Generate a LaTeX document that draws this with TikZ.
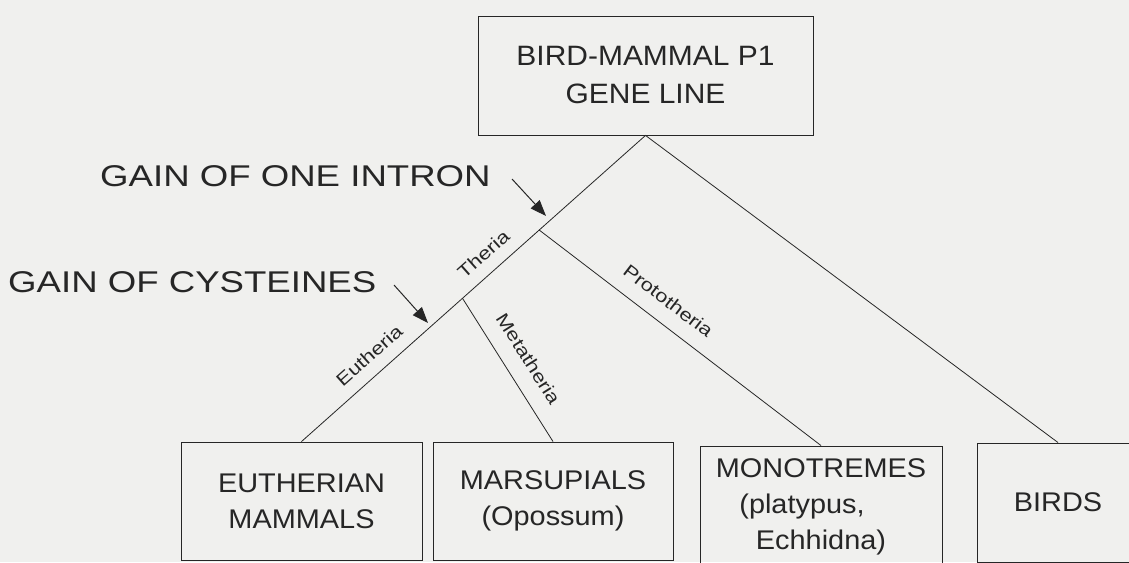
\documentclass[tikz,border=0pt]{standalone}
\usepackage{fontspec}
\setmainfont{Liberation Sans}[FakeStretch=1.07]
\newfontfamily\widefont{Liberation Sans}[FakeStretch=1.22]
\usetikzlibrary{arrows.meta,calc}
\definecolor{paper}{RGB}{240,240,238}
\definecolor{ink}{RGB}{38,38,38}
\begin{document}
\begin{tikzpicture}[x=1pt,y=1pt,
  taxon/.style={draw=ink, line width=0.9pt, text=ink, align=center, inner sep=0pt, minimum height=118pt, font=\fontsize{27}{36}\selectfont},
  clade/.style={text=ink, font=\widefont\fontsize{18}{20}\selectfont, sloped},
  event/.style={text=ink, font=\widefont\fontsize{30}{34}\selectfont, anchor=base west, inner sep=0pt},
  branch/.style={draw=ink, line width=0.8pt},
  marker/.style={draw=ink, line width=1pt, -{Triangle[length=16pt,width=12pt]}}]
\useasboundingbox[fill=paper] (0,0) rectangle (1129,562);
\node[taxon, minimum width=335pt, minimum height=119pt, font=\fontsize{28}{38}\selectfont] (gene) at (645.5,486.5) {BIRD-MAMMAL P1\\GENE LINE};
\node[taxon, minimum width=241pt] (euth) at (301.5,61) {EUTHERIAN\\MAMMALS};
\node[taxon, minimum width=240pt] (mars) at (553,61) {MARSUPIALS\\(Opossum)};
\node[taxon, minimum width=242pt, minimum height=122pt] (mono) at (821,55) {MONOTREMES\\(platypus,\rule{38pt}{0pt}\\Echhidna)};
\node[taxon, minimum width=162pt, minimum height=119pt] (birds) at (1058,59.5) {BIRDS};
\coordinate (theria) at ($(gene.south)!0.309!(euth.north)$);
\coordinate (meta) at ($(gene.south)!0.532!(euth.north)$);
\draw[branch] (euth.north) -- node[clade, above=9pt, pos=0.5] {Eutheria} (meta) -- node[clade, above=9pt, pos=0.44] {Theria} (theria) -- (gene.south) -- (birds.north);
\draw[branch] (meta) -- node[clade, above=13pt, pos=0.51] {Metatheria} (mars.north);
\draw[branch] (theria) -- node[clade, above=12pt, pos=0.41] {Prototheria} (mono.north);
\node[event] (intron) at (100,375) {GAIN OF ONE INTRON};
\node[event] (cyst) at (8,269) {GAIN OF CYSTEINES};
\coordinate (intronTail) at (512,383);
\coordinate (intronHead) at (546,346);
\coordinate (cystTail) at (394,277);
\coordinate (cystHead) at (428,239);
\draw[marker] (intronTail) -- (intronHead);
\draw[marker] (cystTail) -- (cystHead);
\end{tikzpicture}
\end{document}
